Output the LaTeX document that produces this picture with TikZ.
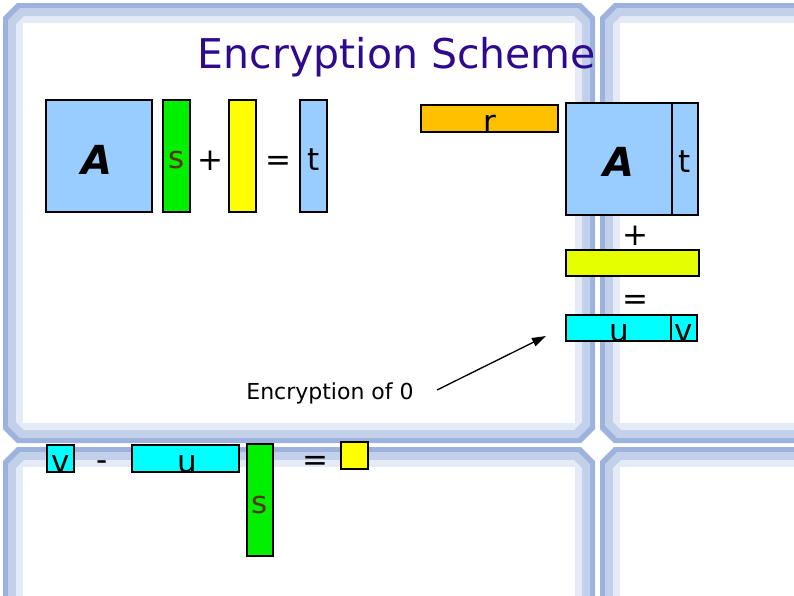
\documentclass[tikz,border=0pt]{standalone}
\usepackage{fontspec}
\setmainfont{DejaVu Sans}
\usetikzlibrary{arrows.meta}
\definecolor{frdark}{HTML}{9DB3DD}
\definecolor{frmid}{HTML}{C3D0EA}
\definecolor{frlight}{HTML}{E4EAF6}
\definecolor{titlecol}{HTML}{2E0A8C}
\definecolor{lblue}{HTML}{99CCFF}
\definecolor{sgreen}{HTML}{00F000}
\definecolor{eyellow}{HTML}{FFFF00}
\definecolor{rorange}{HTML}{FFC000}
\definecolor{ygreen}{HTML}{E6FF00}
\definecolor{ucyan}{HTML}{00FFFF}
\definecolor{sbrown}{HTML}{5A3300}
\newcommand\chamf[6]{%
  \fill[#1] (#2+#6,#3) -- (#4-#6,#3) -- (#4,#3+#6) -- (#4,#5-#6) -- (#4-#6,#5) -- (#2+#6,#5) -- (#2,#5-#6) -- (#2,#3+#6) -- cycle;}
\newcommand\panefr[4]{%
  \chamf{frdark}{#1}{#2}{#3}{#4}{14}%
  \chamf{frmid}{#1+5}{#2+5}{#3-5}{#4-5}{12}%
  \chamf{frlight}{#1+13}{#2+13}{#3-13}{#4-13}{8}%
  \fill[white] (#1+20,#2+20) rectangle (#3-20,#4-20);}
\begin{document}
\begin{tikzpicture}[x=1pt,y=-1pt,
  box/.style={draw=black, line width=1.3pt, inner sep=0pt, outer sep=0pt},
  lbl/.style={inner sep=0pt, anchor=base, font=\fontsize{31}{33}\selectfont},
  bigA/.style={inner sep=0pt, anchor=base, font=\fontsize{40}{42}\selectfont\bfseries\itshape}]
\useasboundingbox (0,0) rectangle (794,595);
\fill[white] (0,0) rectangle (794,595);
\begin{scope}
\clip (0,0) rectangle (794,595);
\panefr{3}{3}{595}{443}
\panefr{600}{3}{830}{443}
\panefr{3}{447}{595}{640}
\panefr{600}{447}{830}{640}
\end{scope}
% title
\node[inner sep=0pt, text=titlecol, font=\fontsize{41}{44}\selectfont] (title) at (397,57) {Encryption Scheme};
% left equation
\node[box, fill=lblue, minimum width=106pt, minimum height=112pt] (A1) at (99,156) {};
\node[bigA] (A1l) at (97,174) {A};
\node[box, fill=sgreen, minimum width=27pt, minimum height=112pt] (s1) at (176.5,156) {};
\node[lbl, text=sbrown] (s1l) at (176.5,168) {s};
\node[lbl] (plus1) at (210,170) {+};
\node[box, fill=eyellow, minimum width=27pt, minimum height=112pt] (e1) at (242.5,156) {};
\node[lbl] (eq1) at (278,170) {=};
\node[box, fill=lblue, minimum width=27pt, minimum height=112pt] (t1) at (313.5,156) {};
\node[lbl] (t1l) at (313.5,170) {t};
% right side
\node[box, fill=rorange, minimum width=137pt, minimum height=27pt] (r) at (489.5,118.5) {};
\node[lbl] (rl) at (489.5,132) {r};
\node[box, fill=lblue, minimum width=106pt, minimum height=112pt] (A2) at (619,159) {};
\node[box, fill=lblue, minimum width=26pt, minimum height=112pt] (t2) at (685,159) {};
\node[bigA] (A2l) at (619,176) {A};
\node[lbl] (t2l) at (685,172) {t};
\node[lbl] (plus2) at (635,245) {+};
\node[box, fill=ygreen, minimum width=133pt, minimum height=26pt] (e2) at (632.5,263) {};
\node[lbl] (eq2) at (635,309) {=};
\node[box, fill=ucyan, minimum width=105pt, minimum height=26pt] (u2) at (618.5,328) {};
\node[box, fill=ucyan, minimum width=26pt, minimum height=26pt] (v2) at (684,328) {};
\node[lbl] (u2l) at (619,341) {u};
\node[lbl] (v2l) at (684,341) {v};
% annotation
\node[inner sep=0pt, font=\fontsize{22}{24}\selectfont] (enc0) at (330,393) {Encryption of 0};
\coordinate (arrS) at (437,390);
\coordinate (arrE) at (546,336);
\draw[line width=1.3pt, -{Triangle[length=14pt,width=9pt]}] (arrS) -- (arrE);
% decryption row
\node[box, fill=ucyan, minimum width=27pt, minimum height=27pt] (v3) at (60.5,458.5) {};
\node[lbl] (v3l) at (60.5,472) {v};
\node[lbl] (minus3) at (102,470) {-};
\node[box, fill=ucyan, minimum width=107pt, minimum height=27pt] (u3) at (185.5,458.5) {};
\node[lbl] (u3l) at (187,472) {u};
\node[box, fill=sgreen, minimum width=26pt, minimum height=112pt] (s3) at (260,500) {};
\node[lbl, text=sbrown] (s3l) at (260,513) {s};
\node[lbl] (eq3) at (315,470) {=};
\node[box, fill=eyellow, minimum width=27pt, minimum height=27pt] (e3) at (354.5,455.5) {};
\end{tikzpicture}
\end{document}
